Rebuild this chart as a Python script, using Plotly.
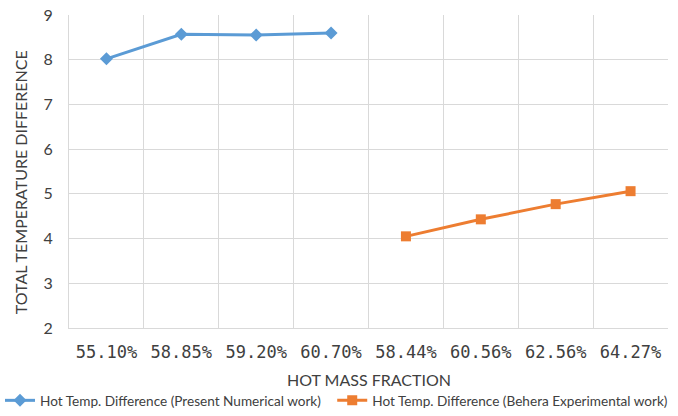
import plotly.graph_objects as go

categories = ["55.10%", "58.85%", "59.20%", "60.70%", "58.44%", "60.56%", "62.56%", "64.27%"]
numerical = [8.02, 8.57, 8.55, 8.60, None, None, None, None]
experimental = [None, None, None, None, 4.05, 4.43, 4.77, 5.06]
y_ticks = [2, 3, 4, 5, 6, 7, 8, 9]

fig = go.Figure()
fig.add_trace(go.Scatter(
    x=categories, y=numerical, mode="lines+markers",
    name="Hot Temp. Difference (Present Numerical work)",
    line=dict(color="#5B9BD5", width=3),
    marker=dict(symbol="diamond", size=10, color="#5B9BD5"),
    legend="legend",
))
fig.add_trace(go.Scatter(
    x=categories, y=experimental, mode="lines+markers",
    name="Hot Temp. Difference (Behera Experimental work)",
    line=dict(color="#ED7D31", width=3),
    marker=dict(symbol="square", size=10, color="#ED7D31"),
    legend="legend2",
))

legend_style = dict(
    orientation="h", xref="container", yref="container", y=-0.022,
    xanchor="left", yanchor="bottom", font=dict(family="Lato", size=13.6, color="#404040"),
    itemwidth=30, bgcolor="rgba(0,0,0,0)",
)

fig.update_layout(
    width=678, height=416,
    margin=dict(l=69, r=10, t=15, b=88, autoexpand=False),
    paper_bgcolor="white", plot_bgcolor="white",
    font=dict(family="Lato", color="#404040"),
    xaxis=dict(
        type="category", categoryorder="array", categoryarray=categories,
        tickson="boundaries", showgrid=True, gridcolor="#d9d9d9", gridwidth=1,
        showline=True, linecolor="#d9d9d9", linewidth=1, mirror=False,
        ticks="", ticklabelstandoff=9,
        tickfont=dict(family="DejaVu Sans Mono", size=17, color="#404040"),
        range=[-0.5, 7.5], automargin=False,
    ),
    yaxis=dict(
        range=[2, 9], tickvals=y_ticks, showgrid=True, gridcolor="#d9d9d9", gridwidth=1,
        showline=True, linecolor="#d9d9d9", linewidth=1, zeroline=False,
        ticks="", ticklabelstandoff=12,
        tickfont=dict(family="Lato", size=16, color="#404040"),
        automargin=False,
    ),
    annotations=[
        dict(text="HOT MASS FRACTION", xref="paper", yref="paper", x=0.5, y=-0.166,
             xanchor="center", yanchor="middle", showarrow=False,
             font=dict(family="Lato", size=16, color="#404040")),
        dict(text="TOTAL TEMPERATURE DIFFERENCE", xref="paper", yref="paper", x=-0.0818, y=0.466,
             xanchor="center", yanchor="middle", textangle=-90, showarrow=False,
             font=dict(family="Lato", size=16, color="#404040")),
    ],
    legend=dict(x=0.0, **legend_style),
    legend2=dict(x=0.49, **legend_style),
    showlegend=True,
)

fig.write_html("out.html")
